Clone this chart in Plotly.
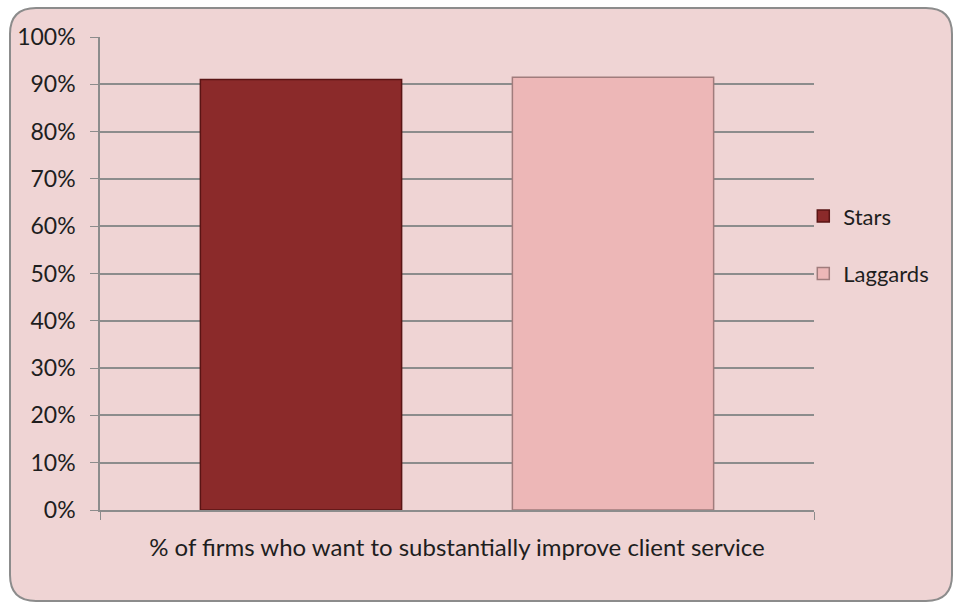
import plotly.graph_objects as go

# Survey result: share of firms wanting to substantially improve client service
categories = ["% of firms who want to substantially improve client service"]
series_names = ["Stars", "Laggards"]
stars_values = [0.91]
laggards_values = [0.915]
y_ticks = [0, 0.1, 0.2, 0.3, 0.4, 0.5, 0.6, 0.7, 0.8, 0.9, 1.0]

W, H = 954, 604
L, R, T, B = 100, 140, 37, 94
pw, ph = W - L - R, H - T - B

def px_x(p):
    return (p - L) / pw

def px_y(p):
    return (H - B - p) / ph

FONT = "Lato"
TXT = "#1E1E1E"

fig = go.Figure()
fig.add_trace(go.Bar(
    name=series_names[0], x=categories, y=stars_values, legendgroup="a",
    marker=dict(color="#8B2A2A", line=dict(color="#5A1414", width=1.5)),
))
fig.add_trace(go.Bar(
    name=series_names[1], x=categories, y=laggards_values, legendgroup="b",
    marker=dict(color="#EDB7B7", line=dict(color="#A07C7C", width=1.5)),
))

# rounded chart-area frame
x0, x1 = px_x(10), px_x(952)
y0, y1 = px_y(8), px_y(601)
rx = 26 / pw
ry = 26 / ph
path = (f"M {x0+rx},{y0} L {x1-rx},{y0} Q {x1},{y0} {x1},{y0-ry} "
        f"L {x1},{y1+ry} Q {x1},{y1} {x1-rx},{y1} "
        f"L {x0+rx},{y1} Q {x0},{y1} {x0},{y1+ry} "
        f"L {x0},{y0-ry} Q {x0},{y0} {x0+rx},{y0} Z")
fig.add_shape(type="path", path=path, xref="paper", yref="paper", layer="below",
              fillcolor="#EFD4D4", line=dict(color="#8C8C8C", width=2))

fig.update_layout(
    width=W, height=H,
    margin=dict(l=L, r=R, t=T, b=B),
    paper_bgcolor="white",
    plot_bgcolor="white",
    barmode="group",
    bargap=0.126,
    bargroupgap=0.355,
    font=dict(family=FONT, size=23, color=TXT),
    showlegend=True,
    legend=dict(x=0.985, xanchor="left", y=0.56, yanchor="middle",
                bgcolor="rgba(0,0,0,0)", tracegroupgap=26,
                font=dict(family=FONT, size=22, color=TXT),
                itemwidth=30),
    xaxis=dict(showgrid=False, showline=True, linecolor="#8C8C8C", linewidth=1.5,
               ticks="outside", tickson="boundaries", ticklen=8, tickcolor="#8C8C8C",
               ticklabelstandoff=15, tickfont=dict(family=FONT, size=24, color=TXT)),
    yaxis=dict(range=[0, 1.0], tickvals=y_ticks, tickformat=".0%",
               showgrid=True, gridcolor="#8C8C8C", gridwidth=1.5,
               showline=True, linecolor="#8C8C8C", linewidth=1.5,
               ticks="outside", ticklen=8, tickcolor="#8C8C8C",
               ticklabelstandoff=10, zeroline=False,
               tickfont=dict(family=FONT, size=23, color=TXT)),
)

fig.write_html("out.html")
